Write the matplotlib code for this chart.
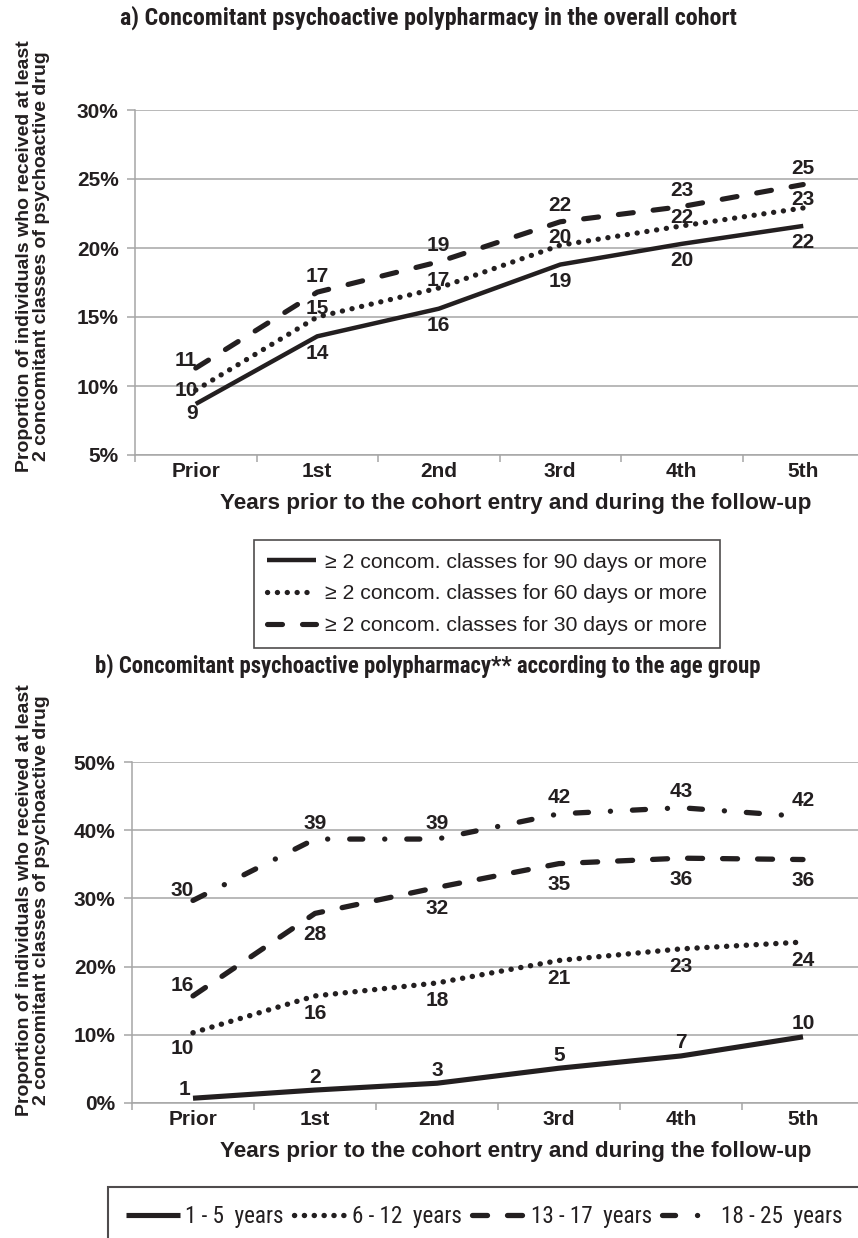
import os
import matplotlib
matplotlib.use('Agg')
import matplotlib.pyplot as plt
from matplotlib import font_manager
from matplotlib.font_manager import FontProperties
import numpy as np

plt.rcParams['lines.scale_dashes'] = False
plt.rcParams['font.family'] = ['Liberation Sans', 'DejaVu Sans']

# ---------------- data ----------------
categories = ['Prior', '1st', '2nd', '3rd', '4th', '5th']

# panel a (percent)
a_90days = [8.7, 13.6, 15.6, 18.8, 20.3, 21.6]
a_60days = [9.7, 15.0, 17.1, 20.2, 21.6, 22.9]
a_30days = [11.3, 16.8, 19.0, 21.9, 23.0, 24.6]
a_names = ['\u2265 2 concom. classes for 90 days or more',
           '\u2265 2 concom. classes for 60 days or more',
           '\u2265 2 concom. classes for 30 days or more']

# panel b (percent)
b_1_5 = [0.7, 1.9, 2.9, 5.1, 6.9, 9.7]
b_6_12 = [10.3, 15.7, 17.6, 20.9, 22.6, 23.6]
b_13_17 = [15.7, 27.8, 31.6, 35.1, 35.9, 35.7]
b_18_25 = [29.7, 38.7, 38.7, 42.4, 43.3, 42.0]
b_names = ['1 - 5  years', '6 - 12  years', '13 - 17  years', '18 - 25  years']

a_yticks = [5, 10, 15, 20, 25, 30]
b_yticks = [0, 10, 20, 30, 40, 50]

title_a = 'a) Concomitant psychoactive polypharmacy in the overall cohort'
title_b = 'b) Concomitant psychoactive polypharmacy** according to the age group'
xlabel = 'Years prior to the cohort entry and during the follow-up'
ylabel = 'Proportion of individuals who received at least\n2 concomitant classes of psychoactive drug'


# ---------------- fonts ----------------
def find_condensed(bold):
    prefs = ['liberationsansnarrow', 'arialnarrow', 'robotocondensed', 'notosans-condensed',
             'opensans_condensed', 'opensanscondensed', 'opensans-condensed', 'dejavusanscondensed']
    best = None
    for f in font_manager.fontManager.ttflist:
        base = os.path.basename(f.fname).lower().replace(' ', '')
        if f.style != 'normal' or 'italic' in base or 'oblique' in base:
            continue
        w = f.weight
        if not isinstance(w, int):
            w = {'bold': 700, 'normal': 400, 'regular': 400, 'book': 400}.get(str(w).lower(), 500)
        if bold and w != 700:
            continue
        if not bold and w != 400:
            continue
        for rank, p in enumerate(prefs):
            if base.startswith(p):
                if best is None or rank < best[0]:
                    best = (rank, f.fname)
    return best[1] if best else None


_cb = find_condensed(True)
_cr = find_condensed(False)
COND_BOLD = FontProperties(fname=_cb) if _cb else FontProperties(family='Liberation Sans', weight='bold')
COND_REG = FontProperties(fname=_cr) if _cr else FontProperties(family='Liberation Sans')

# ---------------- styles ----------------
W, H = 858, 1238
PX = 0.72  # points per pixel at dpi 100
GRID = '#a6a6a6'
INK = '#231f20'

solid = dict(linestyle='-', solid_capstyle='butt', solid_joinstyle='round')
dotted = dict(linestyle=(0, (0.1, 7.0)), dash_capstyle='round')
dashed = dict(linestyle=(0, (10.8, 14.4)), dash_capstyle='round')
dashdot = dict(linestyle=(0, (9.4, 15.8, 0.1, 15.8)), dash_capstyle='round')

fig = plt.figure(figsize=(W / 100, H / 100), dpi=100)
renderer = fig.canvas.get_renderer()


def fit_width(t, target_px):
    w = t.get_window_extent(renderer).width
    t.set_fontsize(t.get_fontsize() * target_px / w)


def ax_rect(left, top, right, bottom):
    return [left / W, 1 - bottom / H, (right - left) / W, (bottom - top) / H]


def setup(ax, yticks):
    ax.set_xlim(-0.5, 5.5)
    ax.set_ylim(yticks[0], yticks[-1])
    ax.set_yticks(yticks)
    ax.set_yticklabels([f'{t}%' for t in yticks], fontsize=15, fontweight='bold', color=INK)
    ax.set_xticks(range(len(categories)))
    ax.set_xticklabels(categories, fontsize=15, fontweight='bold', color=INK)
    ax.set_xticks(np.arange(-0.5, len(categories), 1), minor=True)
    ax.tick_params(axis='x', which='major', length=0, pad=5)
    ax.tick_params(axis='x', which='minor', length=5, width=1.1, color=GRID)
    ax.tick_params(axis='y', length=5.8, width=1.1, color=GRID, pad=6)
    ax.grid(axis='y', color=GRID, lw=1.1)
    ax.set_axisbelow(True)
    for s in ['top', 'right']:
        ax.spines[s].set_visible(False)
    for s in ['left', 'bottom']:
        ax.spines[s].set_color(GRID)
        ax.spines[s].set_linewidth(1.1)


def label_points(ax, vals, dy, prior_off):
    for i, v in enumerate(vals):
        if i == 0:
            off = (prior_off[0] * PX, prior_off[1] * PX)
        else:
            off = (0, dy * PX)
        ax.annotate(str(int(round(v))), (i, v), xytext=off, textcoords='offset points',
                    ha='center', va='center', fontsize=15, fontweight='bold', color=INK,
                    annotation_clip=False)


x = np.arange(len(categories))

# ---------------- panel a ----------------
axA = fig.add_axes(ax_rect(135, 110, 864, 455))
setup(axA, a_yticks)
lA1, = axA.plot(x, a_90days, color=INK, lw=3.2, **solid)
lA2, = axA.plot(x, a_60days, color=INK, lw=3.8, **dotted)
lA3, = axA.plot(x, a_30days, color=INK, lw=3.7, **dashed)
label_points(axA, a_90days, -17, (-4, -10))
label_points(axA, a_60days, 8, (-9, 0))
label_points(axA, a_30days, 16, (-10, 8))

tA = fig.text(428 / W, 1 - 18 / H, title_a, ha='center', va='center',
              fontproperties=COND_BOLD, color=INK)
tA.set_fontsize(16)
fit_width(tA, 615)
fig.text(516 / W, 1 - 503 / H, xlabel, ha='center', va='center', fontsize=16.2,
         fontweight='bold', color=INK)
fig.text(33 / W, 1 - 256 / H, ylabel, ha='center', va='center', rotation=90,
         fontsize=14, fontweight='bold', color=INK, multialignment='center', linespacing=1.05)

legA = fig.legend([lA1, lA2, lA3], a_names, loc='upper left',
                  bbox_to_anchor=(254 / W, 1 - 540 / H), frameon=True, fancybox=False,
                  fontsize=15.3, handlelength=2.3, handletextpad=0.45, labelspacing=0.6,
                  borderpad=0.6, borderaxespad=0)
legA.get_frame().set_edgecolor(INK)
legA.get_frame().set_linewidth(1.2)
for t in legA.get_texts():
    t.set_color(INK)

# ---------------- panel b ----------------
axB = fig.add_axes(ax_rect(132, 762, 864, 1103))
setup(axB, b_yticks)
lB1, = axB.plot(x, b_1_5, color=INK, lw=3.7, **solid)
lB2, = axB.plot(x, b_6_12, color=INK, lw=3.9, **dotted)
lB3, = axB.plot(x, b_13_17, color=INK, lw=3.8, **dashed)
lB4, = axB.plot(x, b_18_25, color=INK, lw=3.8, **dashdot)
label_points(axB, b_1_5, 13, (-8, 9))
label_points(axB, b_6_12, -18, (-11, -16))
label_points(axB, b_13_17, -21, (-11, 10))
label_points(axB, b_18_25, 16, (-11, 10))

tB = fig.text(428 / W, 1 - 666 / H, title_b, ha='center', va='center',
              fontproperties=COND_BOLD, color=INK)
tB.set_fontsize(16)
fit_width(tB, 668)
fig.text(516 / W, 1 - 1152 / H, xlabel, ha='center', va='center', fontsize=16.2,
         fontweight='bold', color=INK)
fig.text(33 / W, 1 - 900 / H, ylabel, ha='center', va='center', rotation=90,
         fontsize=14, fontweight='bold', color=INK, multialignment='center', linespacing=1.05)

# legend font size fitted so that "13 - 17  years" is about 122 px wide
_probe = fig.text(0, 0, b_names[2], fontproperties=COND_REG)
_probe.set_fontsize(16)
_w = _probe.get_window_extent(renderer).width
leg_size = 16 * 122 / _w
_probe.remove()
legB_prop = COND_REG.copy()
legB_prop.set_size(leg_size)

legB = fig.legend([lB1, lB2, lB3, lB4], b_names, loc='upper left', ncol=4,
                  bbox_to_anchor=(108 / W, 1 - 1187 / H), frameon=True, fancybox=False,
                  prop=legB_prop, handlelength=2.3, handletextpad=0.25, columnspacing=0.42,
                  borderpad=0.8, borderaxespad=0)
legB.get_frame().set_edgecolor(INK)
legB.get_frame().set_linewidth(1.5)
for t in legB.get_texts():
    t.set_color(INK)

fig.savefig('out.png', dpi=100)
